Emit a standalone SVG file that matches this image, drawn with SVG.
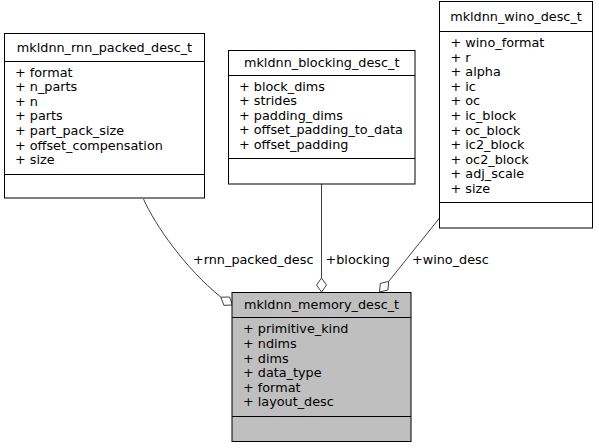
<svg xmlns="http://www.w3.org/2000/svg" width="599" height="448" viewBox="0 0 599 448">
<style>
text{font-family:"DejaVu Sans",sans-serif;font-size:12.8px;fill:#000}
.t{text-anchor:middle}
.box{fill:#fff;stroke:#000;stroke-width:1}
.root{fill:#bfbfbf;stroke:#000;stroke-width:1}
.ln{stroke:#000;stroke-width:1;fill:none}
.e{stroke:#404040;stroke-width:1;fill:none}
.d{fill:#fff;stroke:#404040;stroke-width:1}
</style>
<rect width="599" height="448" fill="#fff"/>
<g id="connectors">
<path class="e" d="M143.5,199 C155,225 185,268 220.9,297.2"/>
<polygon class="d" points="232.5,305 223.9,305.3 220.9,297.2 229.5,297"/>
<text x="193" y="264">+rnn_packed_desc</text>
<path class="e" d="M321.5,184 L321.5,278"/>
<polygon class="d" points="321.5,292 316.5,285 321.5,278 326.5,285"/>
<text x="325.5" y="264">+blocking</text>
<path class="e" d="M439.5,218 L388.7,281.4"/>
<polygon class="d" points="379.5,292 380.3,283.4 388.7,281.4 387.9,290"/>
<text x="412" y="264">+wino_desc</text>
</g>
<g id="rnn_packed">
<rect class="box" x="4.5" y="33.5" width="200" height="164.5"/>
<path class="ln" d="M4.5,61.5H204.5M4.5,174.5H204.5"/>
<text class="t" x="104.5" y="51.5">mkldnn_rnn_packed_desc_t</text>
<text x="15" y="76.5">+ format</text>
<text x="15" y="91.1">+ n_parts</text>
<text x="15" y="105.7">+ n</text>
<text x="15" y="120.3">+ parts</text>
<text x="15" y="134.9">+ part_pack_size</text>
<text x="15" y="149.5">+ offset_compensation</text>
<text x="15" y="164.1">+ size</text>
</g>
<g id="blocking">
<rect class="box" x="228.5" y="50.5" width="186.5" height="133.5"/>
<path class="ln" d="M228.5,75.5H415M228.5,158.5H415"/>
<text class="t" x="321.7" y="67">mkldnn_blocking_desc_t</text>
<text x="239" y="90.5">+ block_dims</text>
<text x="239" y="105.1">+ strides</text>
<text x="239" y="119.7">+ padding_dims</text>
<text x="239" y="134.3">+ offset_padding_to_data</text>
<text x="239" y="148.9">+ offset_padding</text>
</g>
<g id="wino">
<rect class="box" x="439.5" y="1.5" width="153" height="226.5"/>
<path class="ln" d="M439.5,31.5H592.5M439.5,202.5H592.5"/>
<text class="t" x="516" y="20.5">mkldnn_wino_desc_t</text>
<text x="450.5" y="47">+ wino_format</text>
<text x="450.5" y="61.6">+ r</text>
<text x="450.5" y="76.2">+ alpha</text>
<text x="450.5" y="90.8">+ ic</text>
<text x="450.5" y="105.4">+ oc</text>
<text x="450.5" y="120">+ ic_block</text>
<text x="450.5" y="134.6">+ oc_block</text>
<text x="450.5" y="149.2">+ ic2_block</text>
<text x="450.5" y="163.8">+ oc2_block</text>
<text x="450.5" y="178.4">+ adj_scale</text>
<text x="450.5" y="193">+ size</text>
</g>
<g id="memory">
<rect class="root" x="232" y="292.5" width="179" height="149"/>
<path class="ln" d="M232,317.5H411M232,416.5H411"/>
<text class="t" x="321.5" y="309">mkldnn_memory_desc_t</text>
<text x="243" y="333.3">+ primitive_kind</text>
<text x="243" y="347.9">+ ndims</text>
<text x="243" y="362.5">+ dims</text>
<text x="243" y="377.1">+ data_type</text>
<text x="243" y="391.7">+ format</text>
<text x="243" y="406.3">+ layout_desc</text>
</g>
</svg>
